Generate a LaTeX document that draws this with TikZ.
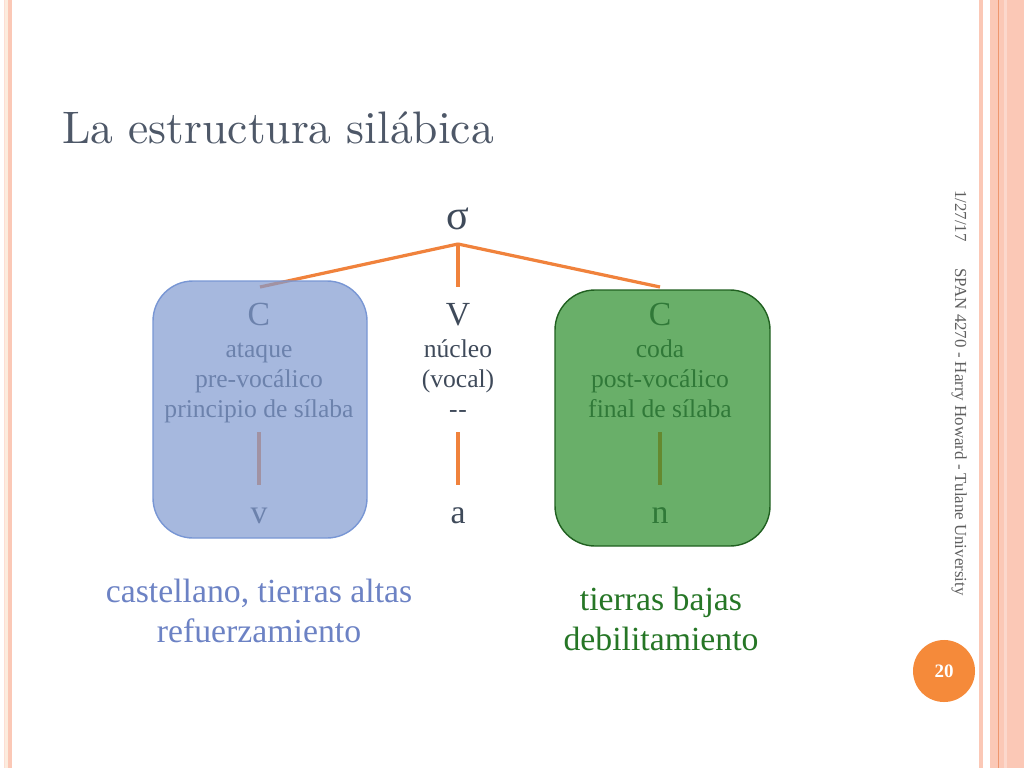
\documentclass[tikz,border=0pt]{standalone}
\usepackage{fontspec}
\newfontfamily\bodyFont{Liberation Serif}
\newfontfamily\titleFont{lmroman10-regular.otf}
\usetikzlibrary{positioning}
\definecolor{slateText}{RGB}{63,74,90}
\definecolor{titleGray}{RGB}{78,88,104}
\definecolor{branchOrange}{RGB}{240,130,60}
\definecolor{onsetBlue}{RGB}{128,154,208}
\definecolor{onsetEdge}{RGB}{120,150,212}
\definecolor{codaGreen}{RGB}{42,141,42}
\definecolor{codaEdge}{RGB}{32,96,32}
\definecolor{highBlue}{RGB}{108,130,196}
\definecolor{lowGreen}{RGB}{38,118,38}
\definecolor{stripeSalmon}{RGB}{251,200,182}
\definecolor{stripeCream}{RGB}{252,236,222}
\definecolor{stripeLine}{RGB}{238,150,110}
\definecolor{badgeOrange}{RGB}{245,138,58}
\definecolor{footerGray}{RGB}{95,95,95}
\newcommand{\fsize}[2]{\fontsize{#1}{#2}\selectfont}
\newcommand{\syllableColumn}[7]{%%
  %% The head letter.
  \node[headStyle] (#1Head) at (#2,325) {#3};
  %% The three lines of description.
  \node[smallStyle] (#1One) at (#2,357) {#4};
  \node[smallStyle] (#1Two) at (#2,387) {#5};
  \node[smallStyle] (#1Three) at (#2,417) {#6};
  %% The segment below.
  \node[headStyle] (#1Seg) at (#2,523) {#7};
  %% The line between them.
  \coordinate (#1Up) at (#2,432);
  \coordinate (#1Down) at (#2,485);
  \draw[branchStyle] (#1Up) -- (#1Down);
}
\begin{document}
\begin{tikzpicture}[%%
  x=0.025cm,y=-0.025cm,%%
  branchStyle/.style={-,draw=branchOrange,line width=2.3pt},%%
  headStyle/.style={anchor=base,inner sep=0pt,text=slateText,font=\bodyFont\fsize{24}{28}},%%
  smallStyle/.style={anchor=base,inner sep=0pt,text=slateText,font=\bodyFont\fsize{18.2}{22}},%%
  bigStyle/.style={anchor=base,inner sep=0pt,font=\bodyFont\fsize{24}{28}},%%
  footerStyle/.style={anchor=base west,inner sep=0pt,rotate=-90,text=footerGray,font=\bodyFont\fsize{12}{14}},%%
  badgeStyle/.style={circle,fill=badgeOrange,minimum size=1.55cm,inner sep=0pt,text=white,font=\bodyFont\bfseries\fsize{13.5}{16}},%%
  onsetBox/.style={draw=onsetEdge,line width=1pt,fill=onsetBlue,fill opacity=0.7,rounded corners=1cm},%%
  codaBox/.style={draw=codaEdge,line width=1pt,fill=codaGreen,fill opacity=0.7,rounded corners=1cm}%%
]
\useasboundingbox (0,0) rectangle (1024,768);
%%
%% The stripes at both edges.
\fill[stripeSalmon!60] (4,0) rectangle (5,768);
\fill[stripeCream] (5,0) rectangle (8,768);
\fill[stripeSalmon] (8,0) rectangle (12,768);
\fill[stripeSalmon] (979,0) rectangle (983,768);
\fill[stripeSalmon] (990,0) rectangle (1024,768);
\fill[stripeLine] (997.5,0) rectangle (999,768);
\fill[stripeSalmon!70] (1004,0) rectangle (1007,768);
%%
%% The title.
\node[anchor=base west,inner sep=0pt,text=titleGray,font=\titleFont\fsize{32.4}{38}] (slideTitle) at (62,144) {La estructura silábica};
%%
%% The footer and the page number.
\node[footerStyle] (dateTag) at (955,190) {1/27/17};
\node[footerStyle] (courseTag) at (955,268) {SPAN 4270 - Harry Howard - Tulane University};
\node[badgeStyle] (pageBadge) at (944,671) {20};
%%
%% The syllable and its three branches.
\node[headStyle,font=\bodyFont\fsize{30}{34}] (sigma) at (458,229) {σ};
\coordinate (apex) at (458,244);
\coordinate (onsetTop) at (260,287);
\coordinate (nucleusTop) at (458,287);
\coordinate (codaTop) at (660,287);
\draw[branchStyle] (apex) -- (onsetTop);
\draw[branchStyle] (apex) -- (nucleusTop);
\draw[branchStyle] (apex) -- (codaTop);
%%
%% The three columns.
\syllableColumn{onset}{259}{C}{ataque}{pre-vocálico}{principio de sílaba}{v}
\syllableColumn{nucleus}{458}{V}{núcleo}{(vocal)}{-\kern0.5pt-}{a}
\syllableColumn{coda}{660}{C}{coda}{post-vocálico}{final de sílaba}{n}
%%
%% The boxes laid over the consonants.
\draw[onsetBox] (153,281) rectangle (367,538);
\draw[codaBox] (555,290) rectangle (770,546);
%%
%% The dialects.
\node[bigStyle,text=highBlue] (highOne) at (259,602) {castellano, tierras altas};
\node[bigStyle,text=highBlue] (highTwo) at (259,642) {refuerzamiento};
\node[bigStyle,text=lowGreen] (lowOne) at (661,610) {tierras bajas};
\node[bigStyle,text=lowGreen] (lowTwo) at (661,650) {debilitamiento};
\end{tikzpicture}
\end{document}
